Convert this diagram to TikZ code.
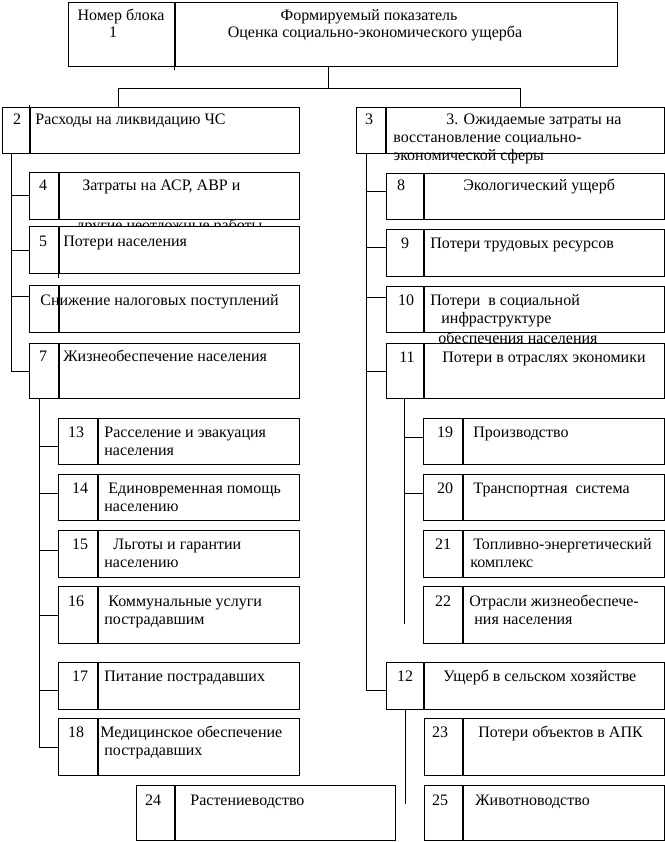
\documentclass[tikz,border=0pt]{standalone}
\usepackage{fontspec}
\setmainfont{Liberation Serif}
\usetikzlibrary{positioning}

\begin{document}
\begin{tikzpicture}[x=1pt,y=-1pt,
    font=\fontsize{16}{18}\selectfont,
    line width=0.8pt,
    blk/.style 2 args={draw,fill=white,anchor=north west,inner sep=0pt,
      minimum width=#1,minimum height=#2},
    lbl/.style={anchor=base west,inner sep=0pt},
    nr/.style={anchor=base,inner sep=0pt}]
    \path[use as bounding box,fill=white] (0,0) rectangle (664,842);
    % block 1
    \node[blk={106}{64}] (nT) at (68,2) {};
    \node[blk={442}{64},right=0pt of nT] (tT) {};
    \node[nr] (nT1) at (121,21) {Номер блока};
    \node[nr] (nT2) at (113,38) {1};
    \node[nr] (tT1) at (369,21) {Формируемый показатель};
    \node[nr] (tT2) at (375,38) {Оценка социально-экономического ущерба};
    \draw (tT.south west) -- ++(0,3);
    % level 2
    \node[blk={27}{46}] (n2) at (2,107) {};
    \node[blk={269}{46},right=0pt of n2] (t2) {};
    \draw (t2.north west) -- ++(0,-2);
    \node[nr] (l2n) at (17,125) {2};
    \node[lbl] (l2) at (35,125) {Расходы на ликвидацию ЧС};
    \node[blk={29}{46}] (n3) at (356,107) {};
    \node[blk={278}{46},right=0pt of n3] (t3) {};
    \node[nr] (l3n) at (369,125) {3};
    \node[lbl] (l3a) at (446,125) {3. Ожидаемые затраты на};
    \node[lbl] (l3b) at (393,143) {восстановление социально-};
    \node[lbl] (l3c) at (393,161) {экономической сферы};
    \draw ([xshift=-68pt]tT.south) -- ++(0,22) coordinate (fork);
    \draw ([xshift=-46.5pt]t2.north) |- (fork) -| ([xshift=-5pt]t3.north);
    % left branch
    \node[blk={29}{47}] (n4) at (29,172) {};
    \node[blk={240}{47},right=0pt of n4] (t4) {};
    \node[nr] (l4n) at (43,191) {4};
    \node[lbl] (l4a) at (82,191) {Затраты на АСР, АВР и};
    \node[lbl] (l4b) at (76,230) {другие неотложные работы};
    \node[blk={29}{47}] (n5) at (29,226) {};
    \node[blk={240}{47},right=0pt of n5] (t5) {};
    \draw (t5.south west) -- ++(0,4);
    \node[nr] (l5n) at (43,246) {5};
    \node[lbl] (l5) at (63,246) {Потери населения};
    \node[blk={29}{47}] (n6) at (29,285) {};
    \node[blk={240}{47},right=0pt of n6] (t6) {};
    \node[lbl] (l6) at (40,305) {Снижение налоговых поступлений};
    \node[blk={29}{55}] (n7) at (29,343) {};
    \node[blk={240}{55},right=0pt of n7] (t7) {};
    \node[nr] (l7n) at (43,361) {7};
    \node[lbl] (l7) at (63,361) {Жизнеобеспечение населения};
    \coordinate (spL) at ([xshift=9pt]n2.south west);
    \draw (spL) |- (n7.west);
    \draw (n4.west) -- (n4.west -| spL);
    \draw (n5.west) -- (n5.west -| spL);
    \draw ([yshift=12.5pt]n6.west) -- ([yshift=12.5pt]n6.west -| spL);
    % block 7
    \node[blk={39}{46}] (n13) at (58,418) {};
    \node[blk={201}{46},right=0pt of n13] (t13) {};
    \node[nr] (l13n) at (76,437) {13};
    \node[lbl] (l13a) at (104,437) {Расселение и эвакуация};
    \node[lbl] (l13b) at (104,455) {населения};
    \node[blk={39}{46}] (n14) at (58,474) {};
    \node[blk={201}{46},right=0pt of n14] (t14) {};
    \node[nr] (l14n) at (80,493) {14};
    \node[lbl] (l14a) at (108,493) {Единовременная помощь};
    \node[lbl] (l14b) at (104,511) {населению};
    \node[blk={39}{47}] (n15) at (58,530) {};
    \node[blk={201}{47},right=0pt of n15] (t15) {};
    \node[nr] (l15n) at (80,549) {15};
    \node[lbl] (l15a) at (113,549) {Льготы и гарантии};
    \node[lbl] (l15b) at (104,567) {населению};
    \node[blk={39}{57}] (n16) at (58,586) {};
    \node[blk={201}{57},right=0pt of n16] (t16) {};
    \node[nr] (l16n) at (76,606) {16};
    \node[lbl] (l16a) at (108,606) {Коммунальные услуги};
    \node[lbl] (l16b) at (104,624) {пострадавшим};
    \node[blk={39}{47}] (n17) at (58,662) {};
    \node[blk={201}{47},right=0pt of n17] (t17) {};
    \node[nr] (l17n) at (80,681) {17};
    \node[lbl] (l17) at (104,681) {Питание пострадавших};
    \node[blk={39}{57}] (n18) at (58,718) {};
    \node[blk={201}{57},right=0pt of n18] (t18) {};
    \node[nr] (l18n) at (76,737) {18};
    \node[lbl] (l18a) at (100,737) {Медицинское обеспечение};
    \node[lbl] (l18b) at (104,755) {пострадавших};
    \coordinate (sp7) at ([xshift=10pt]n7.south west);
    \draw (sp7) |- (n18.west);
    \draw ([yshift=-5pt]n13.west) -- ([yshift=-5pt]n13.west -| sp7);
    \draw ([yshift=4pt]n14.west) -- ([yshift=4pt]n14.west -| sp7);
    \draw ([yshift=4pt]n15.west) -- ([yshift=4pt]n15.west -| sp7);
    \draw (n16.west) -- (n16.west -| sp7);
    \draw ([yshift=-4.5pt]n17.west) -- ([yshift=-4.5pt]n17.west -| sp7);
    % right branch
    \node[blk={37}{46}] (n8) at (386,173) {};
    \node[blk={240}{46},right=0pt of n8] (t8) {};
    \node[nr] (l8n) at (401,191) {8};
    \node[lbl] (l8) at (463,191) {Экологический ущерб};
    \node[blk={37}{47}] (n9) at (386,229) {};
    \node[blk={240}{47},right=0pt of n9] (t9) {};
    \node[nr] (l9n) at (405,248) {9};
    \node[lbl] (l9) at (430,248) {Потери трудовых ресурсов};
    \node[blk={37}{46}] (n10) at (386,286) {};
    \node[blk={240}{46},right=0pt of n10] (t10) {};
    \node[nr] (l10n) at (406,305) {10};
    \node[lbl] (l10a) at (430,305) {Потери\ \ в социальной};
    \node[lbl] (l10b) at (441,323) {инфраструктуре};
    \node[lbl] (l10c) at (438,343) {обеспечения населения};
    \node[blk={37}{55}] (n11) at (386,343) {};
    \node[blk={240}{55},right=0pt of n11] (t11) {};
    \node[nr] (l11n) at (407,362) {11};
    \node[lbl] (l11) at (442,362) {Потери в отраслях экономики};
    \node[blk={37}{47}] (n12) at (386,662) {};
    \node[blk={240}{47},right=0pt of n12] (t12) {};
    \node[nr] (l12n) at (405,681) {12};
    \node[lbl] (l12) at (443,681) {Ущерб в сельском хозяйстве};
    \coordinate (spR) at ([xshift=10pt]n3.south west);
    \draw (spR) |- ([yshift=-4.5pt]n12.west);
    \draw ([yshift=5pt]n8.west) -- ([yshift=5pt]n8.west -| spR);
    \draw ([yshift=5.5pt]n9.west) -- ([yshift=5.5pt]n9.west -| spR);
    \draw ([yshift=12pt]n10.west) -- ([yshift=12pt]n10.west -| spR);
    \draw (n11.west) -- (n11.west -| spR);
    % block 11
    \node[blk={39}{46}] (n19) at (423,418) {};
    \node[blk={201}{46},right=0pt of n19] (t19) {};
    \node[nr] (l19n) at (445,437) {19};
    \node[lbl] (l19) at (473,437) {Производство};
    \node[blk={39}{46}] (n20) at (423,474) {};
    \node[blk={201}{46},right=0pt of n20] (t20) {};
    \node[nr] (l20n) at (445,493) {20};
    \node[lbl] (l20) at (473,493) {Транспортная\ \ система};
    \node[blk={39}{47}] (n21) at (423,530) {};
    \node[blk={201}{47},right=0pt of n21] (t21) {};
    \node[nr] (l21n) at (443,549) {21};
    \node[lbl] (l21a) at (473,549) {Топливно-энергетический};
    \node[lbl] (l21b) at (470,567) {комплекс};
    \node[blk={39}{57}] (n22) at (423,586) {};
    \node[blk={201}{57},right=0pt of n22] (t22) {};
    \node[nr] (l22n) at (443,606) {22};
    \node[lbl] (l22a) at (469,606) {Отрасли жизнеобеспече-};
    \node[lbl] (l22b) at (474,624) {ния населения};
    \draw (n11.south west) ++(18,0) coordinate (sp11) -- ++(0,225);
    \draw ([yshift=4pt]n19.west) -- ([yshift=4pt]n19.west -| sp11);
    \draw ([yshift=4pt]n20.west) -- ([yshift=4pt]n20.west -| sp11);
    % block 12
    \node[blk={38}{57}] (n23) at (424,718) {};
    \node[blk={201}{57},right=0pt of n23] (t23) {};
    \node[nr] (l23n) at (440,737) {23};
    \node[lbl] (l23) at (478,737) {Потери объектов в АПК};
    \node[blk={38}{55}] (n24) at (136,785) {};
    \node[blk={220}{55},right=0pt of n24] (t24) {};
    \node[nr] (l24n) at (153,805) {24};
    \node[lbl] (l24) at (190,805) {Растениеводство};
    \node[blk={38}{55}] (n25) at (424,785) {};
    \node[blk={201}{55},right=0pt of n25] (t25) {};
    \node[nr] (l25n) at (440,805) {25};
    \node[lbl] (l25) at (475,805) {Животноводство};
    \draw ([xshift=19pt]n12.south west) -- ++(0,94);
  \end{tikzpicture}
\end{document}
